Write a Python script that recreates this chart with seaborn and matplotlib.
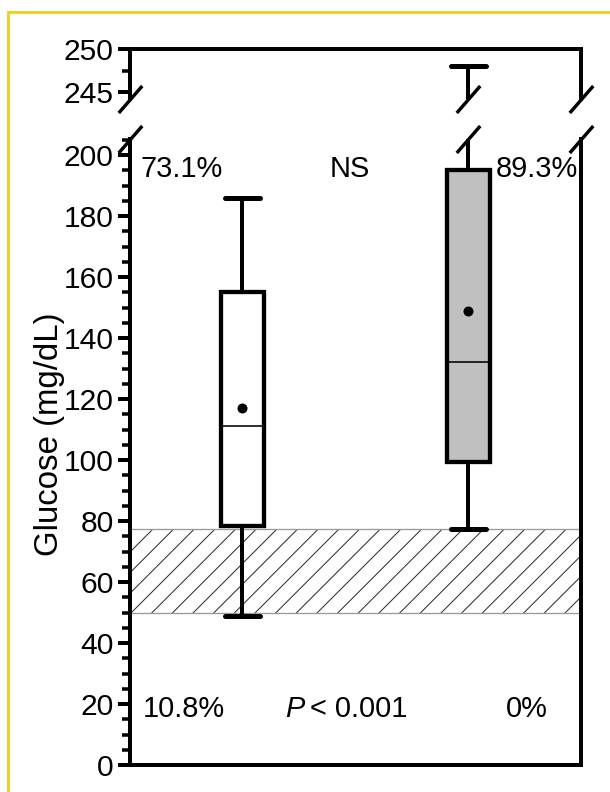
import numpy as np
import pandas as pd
import matplotlib
matplotlib.use("Agg")
import matplotlib.pyplot as plt
import matplotlib.transforms as mtransforms
from matplotlib.ticker import MultipleLocator, FixedLocator
from matplotlib.patches import Rectangle
import seaborn as sns

# ---------------- data ----------------
groups = ["Group 1", "Group 2"]
whisker_low = [49.0, 77.5]
q1_values = [78.5, 99.5]
median_values = [111.0, 132.0]
q3_values = [155.0, 195.0]
whisker_high = [186.0, 248.0]
mean_values = [117.0, 149.0]
box_colors = ["#ffffff", "#c0c0c0"]
pct_above = ["73.1%", "89.3%"]
pct_below = ["10.8%", "0%"]
p_above = "NS"
p_below_italic = "P"
p_below_rest = "< 0.001"
hypo_range = [50.0, 77.5]
lower_major_ticks = [0, 20, 40, 60, 80, 100, 120, 140, 160, 180, 200]
upper_major_ticks = [245, 250]
upper_minor_ticks = [247.5]
y_label = "Glucose (mg/dL)"

# ---------------- setup ----------------
DPI = 124
W_PX, H_PX = 610, 792


def pt(v):
    """pixels -> points"""
    return v * 72.0 / DPI


sns.set_style("ticks")
plt.rcParams["font.family"] = ["Liberation Sans", "DejaVu Sans"]
plt.rcParams["hatch.linewidth"] = pt(1.0)
plt.rcParams["axes.edgecolor"] = "black"
plt.rcParams["axes.labelcolor"] = "black"
plt.rcParams["text.color"] = "black"
plt.rcParams["xtick.color"] = "black"
plt.rcParams["ytick.color"] = "black"
plt.rcParams["ytick.labelcolor"] = "black"

fig = plt.figure(figsize=(W_PX / DPI, H_PX / DPI), dpi=DPI)
fig.patch.set_facecolor("white")

# axes geometry in pixels
AX_L, AX_R = 129.5, 581.0
LOW_TOP, LOW_BOT = 139.0, 765.0
UP_TOP, UP_BOT = 49.0, 99.0
low_scale = 3.05   # px per mg/dL
up_scale = 8.6

ax_low = fig.add_axes([AX_L / W_PX, (H_PX - LOW_BOT) / H_PX,
                       (AX_R - AX_L) / W_PX, (LOW_BOT - LOW_TOP) / H_PX])
ax_up = fig.add_axes([AX_L / W_PX, (H_PX - UP_BOT) / H_PX,
                      (AX_R - AX_L) / W_PX, (UP_BOT - UP_TOP) / H_PX])

# long-form table for the box plots
rows = []
for g, lo, a, m, b, hi in zip(groups, whisker_low, q1_values, median_values,
                              q3_values, whisker_high):
    for v in (lo, a, m, b, hi):
        rows.append({"group": g, "glucose": v})
df = pd.DataFrame(rows)

box_kws = dict(
    data=df, x="group", y="glucose", hue="group",
    order=groups, hue_order=groups, palette=box_colors,
    width=0.19, whis=(0, 100), linecolor="black", linewidth=pt(4.3),
    saturation=1, legend=False, showfliers=False,
    medianprops=dict(linewidth=pt(1.6)),
    capprops=dict(linewidth=pt(5)),
    whiskerprops=dict(linewidth=pt(4)),
    capwidths=0.155,
)

for ax in (ax_low, ax_up):
    sns.boxplot(ax=ax, **box_kws)

# hatched reference band
ax_low.axhspan(hypo_range[0], hypo_range[1], facecolor="none",
               edgecolor="#2a2a2a", hatch="//", linewidth=0, zorder=0.5)
for yv in hypo_range:
    ax_low.axhline(yv, color="#9a9a9a", linewidth=pt(1.3), zorder=0.6)

# mean dots
sns.stripplot(ax=ax_low, x=groups, y=mean_values, order=groups, jitter=False,
              color="black", size=pt(10), linewidth=0, zorder=5)

# limits
ax_low.set_xlim(-0.5, 1.5)
ax_up.set_xlim(-0.5, 1.5)
ax_low.set_ylim(0, (LOW_BOT - LOW_TOP) / low_scale)
ax_up.set_ylim(250 - (UP_BOT - UP_TOP) / up_scale, 250)

# spines
for ax in (ax_low, ax_up):
    for s in ax.spines.values():
        s.set_linewidth(pt(4))
        s.set_color("black")
    ax.set_xlabel("")
    ax.set_ylabel("")
    ax.set_xticks([])
    ax.patch.set_alpha(0)
ax_low.spines["top"].set_visible(False)
ax_up.spines["bottom"].set_visible(False)

# ticks
tick_font = pt(30)
ax_low.yaxis.set_major_locator(FixedLocator(lower_major_ticks))
ax_low.yaxis.set_minor_locator(MultipleLocator(5))
ax_up.yaxis.set_major_locator(FixedLocator(upper_major_ticks))
ax_up.yaxis.set_minor_locator(FixedLocator(upper_minor_ticks))
for ax in (ax_low, ax_up):
    ax.tick_params(axis="y", which="major", direction="out", length=pt(12),
                   width=pt(4), labelsize=tick_font, pad=pt(4), left=True,
                   right=False, labelcolor="black")
    ax.tick_params(axis="y", which="minor", direction="out", length=pt(8),
                   width=pt(3.5), left=True, right=False)
    ax.tick_params(axis="x", which="both", bottom=False, top=False,
                   labelbottom=False)

# y label
ax_low.set_ylabel(y_label, fontsize=pt(33), labelpad=0, color="black")
ax_low.yaxis.set_label_coords((65 - AX_L) / (AX_R - AX_L),
                              (LOW_BOT - 434) / (LOW_BOT - LOW_TOP))

# axis-break slashes
slash = [(-1, -1.15), (1, 1.15)]
mk = dict(marker=slash, markersize=pt(27), linestyle="none", color="black",
          mec="black", mew=pt(3.4), clip_on=False, zorder=10)
ax_up.plot([0, 1], [0, 0], transform=ax_up.transAxes, **mk)
ax_low.plot([0, 1], [1, 1], transform=ax_low.transAxes, **mk)
bt_up = mtransforms.blended_transform_factory(ax_up.transData, ax_up.transAxes)
bt_low = mtransforms.blended_transform_factory(ax_low.transData, ax_low.transAxes)
ax_up.plot([1], [0], transform=bt_up, **mk)
ax_low.plot([1], [1], transform=bt_low, **mk)


# annotations
def xd(px):
    return (px - AX_L) / ((AX_R - AX_L) / 2.0) - 0.5


def yd(px):
    return (LOW_BOT - px) / low_scale


txt = dict(fontsize=pt(29), va="baseline", color="black")
ax_low.text(xd(140), yd(177), pct_above[0], ha="left", **txt)
ax_low.text(xd(350), yd(177), p_above, ha="center", **txt)
ax_low.text(xd(578), yd(177), pct_above[1], ha="right", **txt)
ax_low.text(xd(143), yd(717), pct_below[0], ha="left", **txt)
ax_low.text(xd(285), yd(717), p_below_italic, ha="left", style="italic", **txt)
ax_low.text(xd(310), yd(717), p_below_rest, ha="left", **txt)
ax_low.text(xd(527), yd(717), pct_below[1], ha="center", **txt)

# yellow frame
fig.add_artist(Rectangle((8 / W_PX, -0.1), 2.0, 1.1 - 12 / H_PX,
                         transform=fig.transFigure, fill=False,
                         edgecolor="#f2cf2c", linewidth=pt(3)))

fig.savefig("out.png", dpi=DPI, facecolor="white")
